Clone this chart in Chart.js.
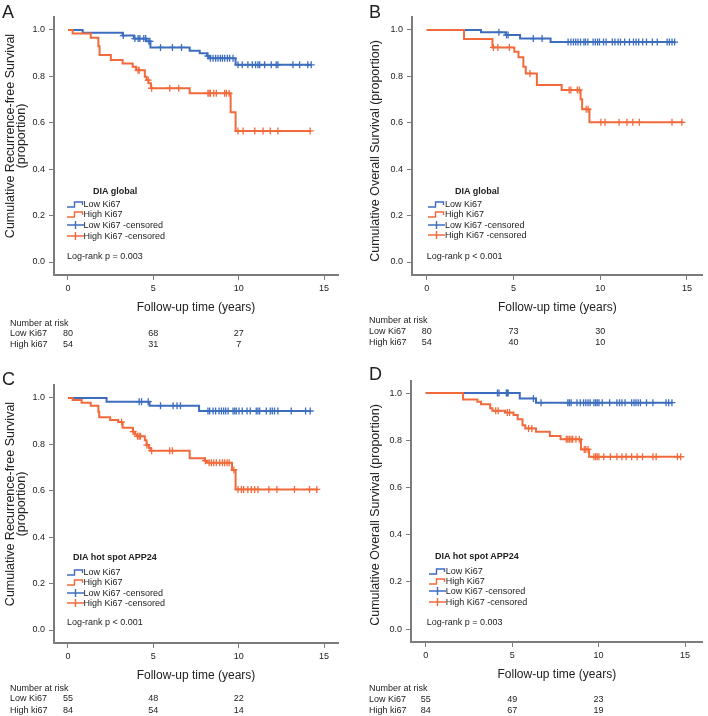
<!DOCTYPE html>
<html>
<head>
<meta charset="utf-8">
<script src="https://cdn.jsdelivr.net/npm/chart.js@4.4.1/dist/chart.umd.min.js"></script>
<style>
  html, body { margin: 0; background: #fff; }
  #fig { position: relative; width: 708px; height: 716px; overflow: hidden;
         font-family: "Liberation Sans", Arial, sans-serif; color: #222; }
  #fig canvas { position: absolute; }
  .tx { position: absolute; white-space: nowrap; line-height: 1; transform: translateY(-50%); }
  .ytitle { position: absolute; white-space: nowrap; text-align: center; font-size: 12.5px; line-height: 11px;
            transform: translate(-50%, -50%) rotate(-90deg); }
  .icon { position: absolute; transform: translateY(-50%); display: block; }
</style>
</head>
<body>
<div id="fig"></div>
<script>
// axes and labels
const xTicks = [0, 5, 10, 15];
const yTicks = [0, 0.2, 0.4, 0.6, 0.8, 1.0];
const riskTimes = [0, 5, 10];
const riskLabels = ['Low Ki67', 'High ki67'];
const legendLabels = ['Low Ki67', 'High Ki67', 'Low Ki67 -censored', 'High Ki67 -censored'];

// A: recurrence-free survival, DIA global (step times / survival / censor times)
const aLowT  = [0, 0.86, 3.2, 3.86, 4.6, 4.83, 7.13, 7.72, 8.15, 8.27, 9.82, 14.3];
const aLowS  = [1, 0.988, 0.976, 0.963, 0.951, 0.925, 0.911, 0.9, 0.888, 0.878, 0.85, 0.85];
const aLowC  = [3.24, 3.92, 4.11, 4.21, 4.44, 4.55, 4.74, 4.8, 5.42, 6.12, 6.65, 8.2, 8.34, 8.5, 8.65, 8.79, 8.93, 9.05, 9.18, 9.34, 9.47, 9.67, 9.96, 10.21, 10.54, 10.8, 10.99, 11.13, 11.23, 11.52, 11.91, 12.2, 12.3, 13.18, 13.57, 14.05, 14.25];
const aHighT = [0, 0.27, 1.33, 1.78, 1.85, 2.51, 3.2, 3.79, 3.99, 4.5, 4.6, 4.72, 4.86, 7.13, 9.53, 9.82, 14.25];
const aHighS = [1, 0.985, 0.967, 0.93, 0.892, 0.871, 0.856, 0.842, 0.826, 0.799, 0.784, 0.77, 0.749, 0.727, 0.645, 0.565, 0.565];
const aHighC = [4.11, 4.17, 4.7, 4.9, 5.96, 6.49, 8.2, 8.27, 8.34, 8.54, 8.69, 9.18, 9.28, 9.44, 9.96, 10.26, 10.94, 11.43, 11.85, 12.3, 14.19];
const aRisk  = [[80, 68, 27], [54, 31, 7]];

// B: overall survival, DIA global
const bLowT  = [0, 3.13, 4.55, 5.38, 7.14, 14.33];
const bLowS  = [1, 0.99, 0.978, 0.963, 0.948, 0.948];
const bLowC  = [4.16, 4.6, 4.69, 6.14, 6.65, 8.15, 8.31, 8.46, 8.59, 8.72, 8.87, 9.06, 9.15, 9.29, 9.59, 9.72, 9.85, 9.96, 10.19, 10.34, 10.7, 10.85, 11.03, 11.17, 11.41, 11.69, 11.92, 12.07, 12.22, 12.45, 12.67, 13.01, 13.29, 13.86, 13.99, 14.14, 14.29];
const bHighT = [0, 2.15, 3.79, 5.05, 5.29, 5.57, 5.71, 6.35, 7.78, 8.87, 8.96, 9.38, 14.8];
const bHighS = [1, 0.961, 0.925, 0.906, 0.882, 0.842, 0.813, 0.763, 0.741, 0.701, 0.658, 0.602, 0.602];
const bHighC = [3.84, 4.1, 4.76, 5.95, 8.21, 8.31, 8.68, 8.79, 9.19, 9.3, 10.04, 10.28, 11.09, 11.54, 11.88, 12.26, 14.14, 14.71];
const bRisk  = [[80, 73, 30], [54, 40, 10]];

// C: recurrence-free survival, DIA hot spot APP24
const cLowT  = [0, 2.26, 4.78, 7.68, 14.2];
const cLowS  = [1, 0.984, 0.967, 0.944, 0.944];
const cLowC  = [4.17, 4.31, 4.7, 5.42, 6.16, 6.39, 6.59, 8.2, 8.3, 8.5, 8.65, 8.85, 8.99, 9.12, 9.24, 9.38, 9.67, 9.77, 9.86, 10.02, 10.21, 10.49, 10.68, 11.03, 11.13, 11.23, 11.62, 11.85, 11.97, 12.1, 12.3, 13.08, 13.92, 14.19];
const cHighT = [0, 0.27, 0.8, 1.33, 1.78, 1.83, 2.47, 2.94, 3.2, 3.8, 3.93, 4.05, 4.5, 4.6, 4.74, 4.83, 7.13, 8.01, 8.15, 9.61, 9.82, 14.64];
const cHighS = [1, 0.991, 0.98, 0.967, 0.941, 0.917, 0.905, 0.896, 0.872, 0.855, 0.843, 0.835, 0.818, 0.797, 0.785, 0.773, 0.74, 0.73, 0.721, 0.69, 0.606, 0.606];
const cHighC = [3.14, 3.82, 4.08, 4.17, 4.25, 4.62, 4.9, 5.96, 6.12, 8.05, 8.27, 8.4, 8.54, 8.69, 8.89, 9.05, 9.18, 9.32, 9.44, 9.72, 9.96, 10.16, 10.29, 10.54, 10.74, 10.94, 11.13, 11.77, 12.24, 13.27, 14.15, 14.58];
const cRisk  = [[55, 48, 22], [84, 54, 14]];

// D: overall survival, DIA hot spot APP24
const dLowT  = [0, 5.44, 6.38, 14.28];
const dLowS  = [1, 0.977, 0.959, 0.959];
const dLowC  = [4.15, 4.24, 4.66, 4.72, 4.77, 6.23, 6.67, 8.22, 8.31, 8.41, 8.75, 8.94, 9.13, 9.26, 9.39, 9.51, 9.73, 9.83, 9.92, 10.02, 10.21, 10.64, 11.06, 11.21, 11.35, 11.53, 11.91, 12.05, 12.16, 12.29, 12.42, 12.77, 13.14, 13.9, 14.05, 14.24];
const dHighT = [0, 2.16, 2.99, 3.2, 3.73, 3.86, 4.59, 5.08, 5.32, 5.6, 5.76, 6.38, 7.18, 7.8, 8.98, 9.45, 14.75];
const dHighS = [1, 0.973, 0.963, 0.952, 0.935, 0.925, 0.917, 0.907, 0.889, 0.864, 0.85, 0.836, 0.818, 0.804, 0.761, 0.73, 0.73];
const dHighC = [4.05, 4.19, 4.72, 4.85, 5.95, 6.14, 8.13, 8.22, 8.31, 8.41, 8.5, 8.69, 8.88, 9.17, 9.26, 9.39, 9.73, 9.83, 9.92, 10.02, 10.3, 10.68, 11.06, 11.35, 11.59, 11.91, 12.23, 12.54, 13.14, 13.33, 14.56, 14.75];
const dRisk  = [[55, 49, 23], [84, 67, 19]];

const BLUE = '#3c6dbf', ORANGE = '#f26a3b', AXIS = '#7c7c7c', INK = '#222';

Chart.defaults.font.family = '"Liberation Sans", Arial, sans-serif';
Chart.defaults.color = INK;

// layout of each panel on the page
const panels = [
  { letter: 'A', left: 0, top: 0, w: 354, h: 318, yW: 54, padTop: 17, padRight: 16,
    xMin: -0.82, xMax: 15.82, yMin: -0.056, yMax: 1.056,
    yTitle: 'Cumulative Recurrence-free Survival<br>(proportion)', yTitleX: 15.5, yTitleY: 136,
    letterXY: [2, 12], legTitle: 'DIA global', legTitleXY: [93, 191], legIconX: 67, legTextX: 83.5,
    legRows: [204, 214.3, 225, 235.5], logrank: 'Log-rank p = 0.003', logXY: [67, 256],
    riskX: 10, riskY: [323, 333.3, 344],
    low: [aLowT, aLowS, aLowC], high: [aHighT, aHighS, aHighC], risk: aRisk },
  { letter: 'B', left: 354, top: 0, w: 354, h: 318, yW: 58, padTop: 17, padRight: 0,
    xMin: -0.85, xMax: 15.91, yMin: -0.056, yMax: 1.056,
    yTitle: 'Cumulative Overall Survival (proportion)', yTitleX: 375, yTitleY: 151,
    letterXY: [369, 12], legTitle: 'DIA global', legTitleXY: [455, 191], legIconX: 428, legTextX: 445,
    legRows: [204, 214.3, 225, 235.3], logrank: 'Log-rank p < 0.001', logXY: [426.7, 256],
    riskX: 369, riskY: [320, 331, 341.7],
    low: [bLowT, bLowS, bLowC], high: [bHighT, bHighS, bHighC], risk: bRisk },
  { letter: 'C', left: 0, top: 368, w: 354, h: 318, yW: 54, padTop: 17, padRight: 16,
    xMin: -0.82, xMax: 15.82, yMin: -0.056, yMax: 1.056,
    yTitle: 'Cumulative Recurrence-free Survival<br>(proportion)', yTitleX: 15.5, yTitleY: 504,
    letterXY: [2, 379], legTitle: 'DIA hot spot APP24', legTitleXY: [73, 557.3], legIconX: 67, legTextX: 83.5,
    legRows: [571.7, 582, 592.7, 603.3], logrank: 'Log-rank p < 0.001', logXY: [67, 622.3],
    riskX: 10, riskY: [687.7, 698.3, 710],
    low: [cLowT, cLowS, cLowC], high: [cHighT, cHighS, cHighC], risk: cRisk },
  { letter: 'D', left: 354, top: 364, w: 354, h: 321, yW: 57, padTop: 17, padRight: 0,
    xMin: -0.85, xMax: 16.02, yMin: -0.055, yMax: 1.051,
    yTitle: 'Cumulative Overall Survival (proportion)', yTitleX: 375, yTitleY: 515,
    letterXY: [369, 374], legTitle: 'DIA hot spot APP24', legTitleXY: [435, 556], legIconX: 429, legTextX: 445.7,
    legRows: [570.7, 580.7, 591.3, 602], logrank: 'Log-rank p = 0.003', logXY: [426.7, 621.7],
    riskX: 369, riskY: [687.7, 699, 710],
    low: [dLowT, dLowS, dLowC], high: [dHighT, dHighS, dHighC], risk: dRisk }
];

const fig = document.getElementById('fig');

function survAt(T, S, t) {
  let s = S[0];
  for (let i = 0; i < T.length; i++) if (T[i] <= t) s = S[i];
  return s;
}

function tx(x, y, s, size, opts = {}) {
  const d = document.createElement('div');
  d.className = 'tx';
  d.textContent = s;
  d.style.left = x + 'px';
  d.style.top = y + 'px';
  d.style.fontSize = size + 'px';
  if (opts.bold) d.style.fontWeight = 'bold';
  if (opts.center) d.style.transform = 'translate(-50%, -50%)';
  fig.appendChild(d);
  return d;
}

function icon(x, y, kind, color) {
  const ns = 'http://www.w3.org/2000/svg';
  const svg = document.createElementNS(ns, 'svg');
  svg.setAttribute('width', 17);
  svg.setAttribute('height', 9);
  svg.setAttribute('class', 'icon');
  svg.style.left = x + 'px';
  svg.style.top = y + 'px';
  const p = document.createElementNS(ns, 'path');
  p.setAttribute('d', kind === 'step' ? 'M0 7.5H7.5V2.5H15.5V5.5' : 'M0 4.5H17M8.5 0.5V8.5');
  p.setAttribute('fill', 'none');
  p.setAttribute('stroke', color);
  p.setAttribute('stroke-width', 1.4);
  svg.appendChild(p);
  fig.appendChild(svg);
}

const stepSet = ([T, S], color) => ({
  data: T.map((t, i) => ({ x: t, y: S[i] })),
  borderColor: color, borderWidth: 2, stepped: true, pointRadius: 0, fill: false
});
const censSet = ([T, S, C], color) => ({
  data: C.map(t => ({ x: t, y: survAt(T, S, t) })),
  showLine: false, pointStyle: 'cross', pointRadius: 3.5, borderColor: color, borderWidth: 1.3
});

panels.forEach(p => {
  const cv = document.createElement('canvas');
  cv.width = p.w; cv.height = p.h;
  cv.style.left = p.left + 'px'; cv.style.top = p.top + 'px';
  cv.style.width = p.w + 'px'; cv.style.height = p.h + 'px';
  fig.appendChild(cv);

  const chart = new Chart(cv, {
    type: 'line',
    data: { datasets: [
      censSet(p.high, ORANGE), stepSet(p.high, ORANGE),
      censSet(p.low, BLUE), stepSet(p.low, BLUE)
    ] },
    options: {
      responsive: false, animation: false, events: [],
      layout: { padding: { top: p.padTop, right: p.padRight, left: 0, bottom: 0 } },
      plugins: { legend: { display: false }, tooltip: { enabled: false } },
      scales: {
        x: {
          type: 'linear', min: p.xMin, max: p.xMax,
          afterBuildTicks: s => { s.ticks = xTicks.map(v => ({ value: v })); },
          afterFit: s => { s.height = 43; },
          grid: { drawOnChartArea: false, drawTicks: true, tickLength: 5, color: AXIS, lineWidth: 1 },
          border: { display: true, color: AXIS, width: 2 },
          ticks: { font: { size: 9 }, color: INK, padding: 3, maxRotation: 0, autoSkip: false },
          title: { display: true, text: 'Follow-up time (years)', font: { size: 12 }, color: INK,
                   padding: { top: 4, bottom: 3 } }
        },
        y: {
          type: 'linear', min: p.yMin, max: p.yMax,
          afterBuildTicks: s => { s.ticks = yTicks.map(v => ({ value: v })); },
          afterFit: s => { s.width = p.yW; },
          grid: { drawOnChartArea: false, drawTicks: true, tickLength: 5, color: AXIS, lineWidth: 1 },
          border: { display: true, color: AXIS, width: 2 },
          ticks: { font: { size: 9 }, color: INK, padding: 4, callback: v => Number(v).toFixed(1) }
        }
      }
    }
  });

  // y axis title
  const yt = document.createElement('div');
  yt.className = 'ytitle';
  yt.innerHTML = p.yTitle;
  yt.style.left = p.yTitleX + 'px';
  yt.style.top = p.yTitleY + 'px';
  fig.appendChild(yt);

  // panel letter
  tx(p.letterXY[0], p.letterXY[1], p.letter, 18);

  // legend
  tx(p.legTitleXY[0], p.legTitleXY[1], p.legTitle, 9, { bold: true });
  const kinds = [['step', BLUE], ['step', ORANGE], ['cross', BLUE], ['cross', ORANGE]];
  legendLabels.forEach((lab, i) => {
    icon(p.legIconX, p.legRows[i], kinds[i][0], kinds[i][1]);
    tx(p.legTextX, p.legRows[i], lab, 9);
  });
  tx(p.logXY[0], p.logXY[1], p.logrank, 9);

  // number at risk
  tx(p.riskX, p.riskY[0], 'Number at risk', 9);
  riskLabels.forEach((lab, r) => {
    tx(p.riskX, p.riskY[r + 1], lab, 9);
    riskTimes.forEach((t, k) => {
      const px = p.left + chart.scales.x.getPixelForValue(t);
      tx(px, p.riskY[r + 1], String(p.risk[r][k]), 9, { center: true });
    });
  });
});
</script>
</body>
</html>
